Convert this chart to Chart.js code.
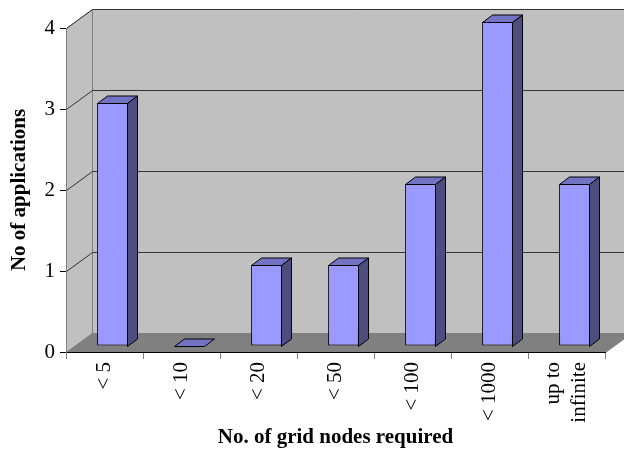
<!DOCTYPE html>
<html>
<head>
<meta charset="utf-8">
<script src="https://cdn.jsdelivr.net/npm/chart.js@4.4.1/dist/chart.umd.min.js"></script>
<style>
    html, body { margin: 0; padding: 0; background: #fff; }
</style>
</head>
<body>
<canvas id="nodes-chart" width="624" height="453"></canvas>
<script>
const categories = ['< 5', '< 10', '< 20', '< 50', '< 100', '< 1000', ['up to', 'infinite']];
const applications = [3, 0, 1, 1, 2, 4, 2];
const yTicks = [0, 1, 2, 3, 4];

const FONT = "'Liberation Serif', 'Times New Roman', serif";

// depth of the box (walls/floor) and of each bar
const WALL = { dx: 26, dy: -19 };
const BAR = { ox: 8, oy: -6, dx: 10, dy: -7.5 };

function poly(ctx, pts, fill, stroke) {
    ctx.beginPath();
    ctx.moveTo(pts[0][0], pts[0][1]);
    for (let i = 1; i < pts.length; i++) ctx.lineTo(pts[i][0], pts[i][1]);
    ctx.closePath();
    if (fill) { ctx.fillStyle = fill; ctx.fill(); }
    if (stroke) { ctx.strokeStyle = stroke; ctx.stroke(); }
}

const box3d = {
    id: 'box3d',
    afterLayout(chart) {
        // center rotated multi-line category labels on their tick
        const x = chart.scales.x;
        const lh = x._resolveTickFontOptions(0).lineHeight;
        x.getLabelItems().forEach(item => {
            const n = Array.isArray(item.label) ? item.label.length : 1;
            item.options.translation[0] -= (n - 1) * lh / 2;
        });
    },
    beforeDraw(chart) {
        const { ctx, chartArea: a, scales: { y } } = chart;
        const { dx, dy } = WALL;
        const L = a.left + 0.5, R = a.right + 0.5, T = a.top + 0.5, B = a.bottom + 0.5;
        ctx.save();
        ctx.lineWidth = 1;
        // back wall
        poly(ctx, [[L + dx, T + dy], [R + dx, T + dy], [R + dx, B + dy], [L + dx, B + dy]], '#c0c0c0', '#808080');
        // side wall
        poly(ctx, [[L, B], [L, T], [L + dx, T + dy], [L + dx, B + dy]], '#c0c0c0', '#808080');
        // floor
        poly(ctx, [[L, B], [R, B], [R + dx, B + dy], [L + dx, B + dy]], '#808080', '#808080');
        // gridlines running along side and back wall
        ctx.strokeStyle = '#333';
        y.ticks.forEach(t => {
            if (t.value === 0) return;
            const py = Math.round(y.getPixelForValue(t.value)) + 0.5;
            ctx.beginPath();
            ctx.moveTo(L, py);
            ctx.lineTo(L + dx, py + dy);
            ctx.lineTo(R + dx, py + dy);
            ctx.stroke();
        });
        ctx.restore();
    },
    beforeDatasetsDraw(chart) {
        chart.ctx.save();
        chart.ctx.translate(BAR.ox, BAR.oy);
    },
    afterDatasetsDraw(chart) {
        const ctx = chart.ctx;
        const { dx, dy } = BAR;
        ctx.lineWidth = 1;
        chart.getDatasetMeta(0).data.forEach(bar => {
            const { x, y, base, width } = bar.getProps(['x', 'y', 'base', 'width'], true);
            const l = Math.round(x - width / 2) + 0.5, r = Math.round(x + width / 2) - 0.5;
            const top = Math.round(y) + 0.5, bot = Math.round(base) + 0.5;
            poly(ctx, [[l, top], [r, top], [r + dx, top + dy], [l + dx, top + dy]], '#7373c4', '#000');
            if (bot - top > 0) {
                poly(ctx, [[r, top], [r, bot], [r + dx, bot + dy], [r + dx, top + dy]], '#4d4d80', '#000');
            }
        });
        ctx.restore();
    }
};

new Chart(document.getElementById('nodes-chart'), {
    type: 'bar',
    data: {
        labels: categories,
        datasets: [{
            data: applications,
            backgroundColor: '#9999ff',
            borderColor: '#000',
            borderWidth: 1,
            borderSkipped: false,
            categoryPercentage: 1,
            barPercentage: 0.4,
            clip: false
        }]
    },
    options: {
        responsive: false,
        animation: false,
        events: [],
        layout: { padding: { top: 28, right: 19, left: 0, bottom: 0 } },
        plugins: {
            legend: { display: false },
            tooltip: { enabled: false }
        },
        scales: {
            x: {
                grid: { offset: true, drawOnChartArea: false, tickLength: 7, color: '#808080' },
                border: { display: true, color: '#000' },
                ticks: {
                    autoSkip: false, minRotation: 90, maxRotation: 90, padding: 3,
                    color: '#000', font: { family: FONT, size: 21 }
                },
                title: {
                    display: true, text: 'No. of grid nodes required', color: '#000',
                    font: { family: FONT, size: 21, weight: 'bold' }, padding: { top: 0, bottom: 3 }
                },
                afterFit(scale) {
                    scale.height = 101;
                    scale.paddingLeft = 0;
                    scale.paddingRight = 0;
                }
            },
            y: {
                min: 0,
                max: 4,
                afterBuildTicks(scale) {
                    scale.ticks = yTicks.map(v => ({ value: v }));
                },
                grid: { drawOnChartArea: false, tickLength: 6, color: '#000' },
                border: { display: true, color: '#808080' },
                ticks: { padding: 5, color: '#000', font: { family: FONT, size: 21 } },
                title: {
                    display: true, text: 'No of applications', color: '#000',
                    font: { family: FONT, size: 21, weight: 'bold' }, padding: { top: 7, bottom: 0 }
                },
                afterFit(scale) {
                    scale.width = 66;
                    scale.paddingTop = 0;
                    scale.paddingBottom = 0;
                }
            }
        }
    },
    plugins: [box3d]
});
</script>
</body>
</html>
